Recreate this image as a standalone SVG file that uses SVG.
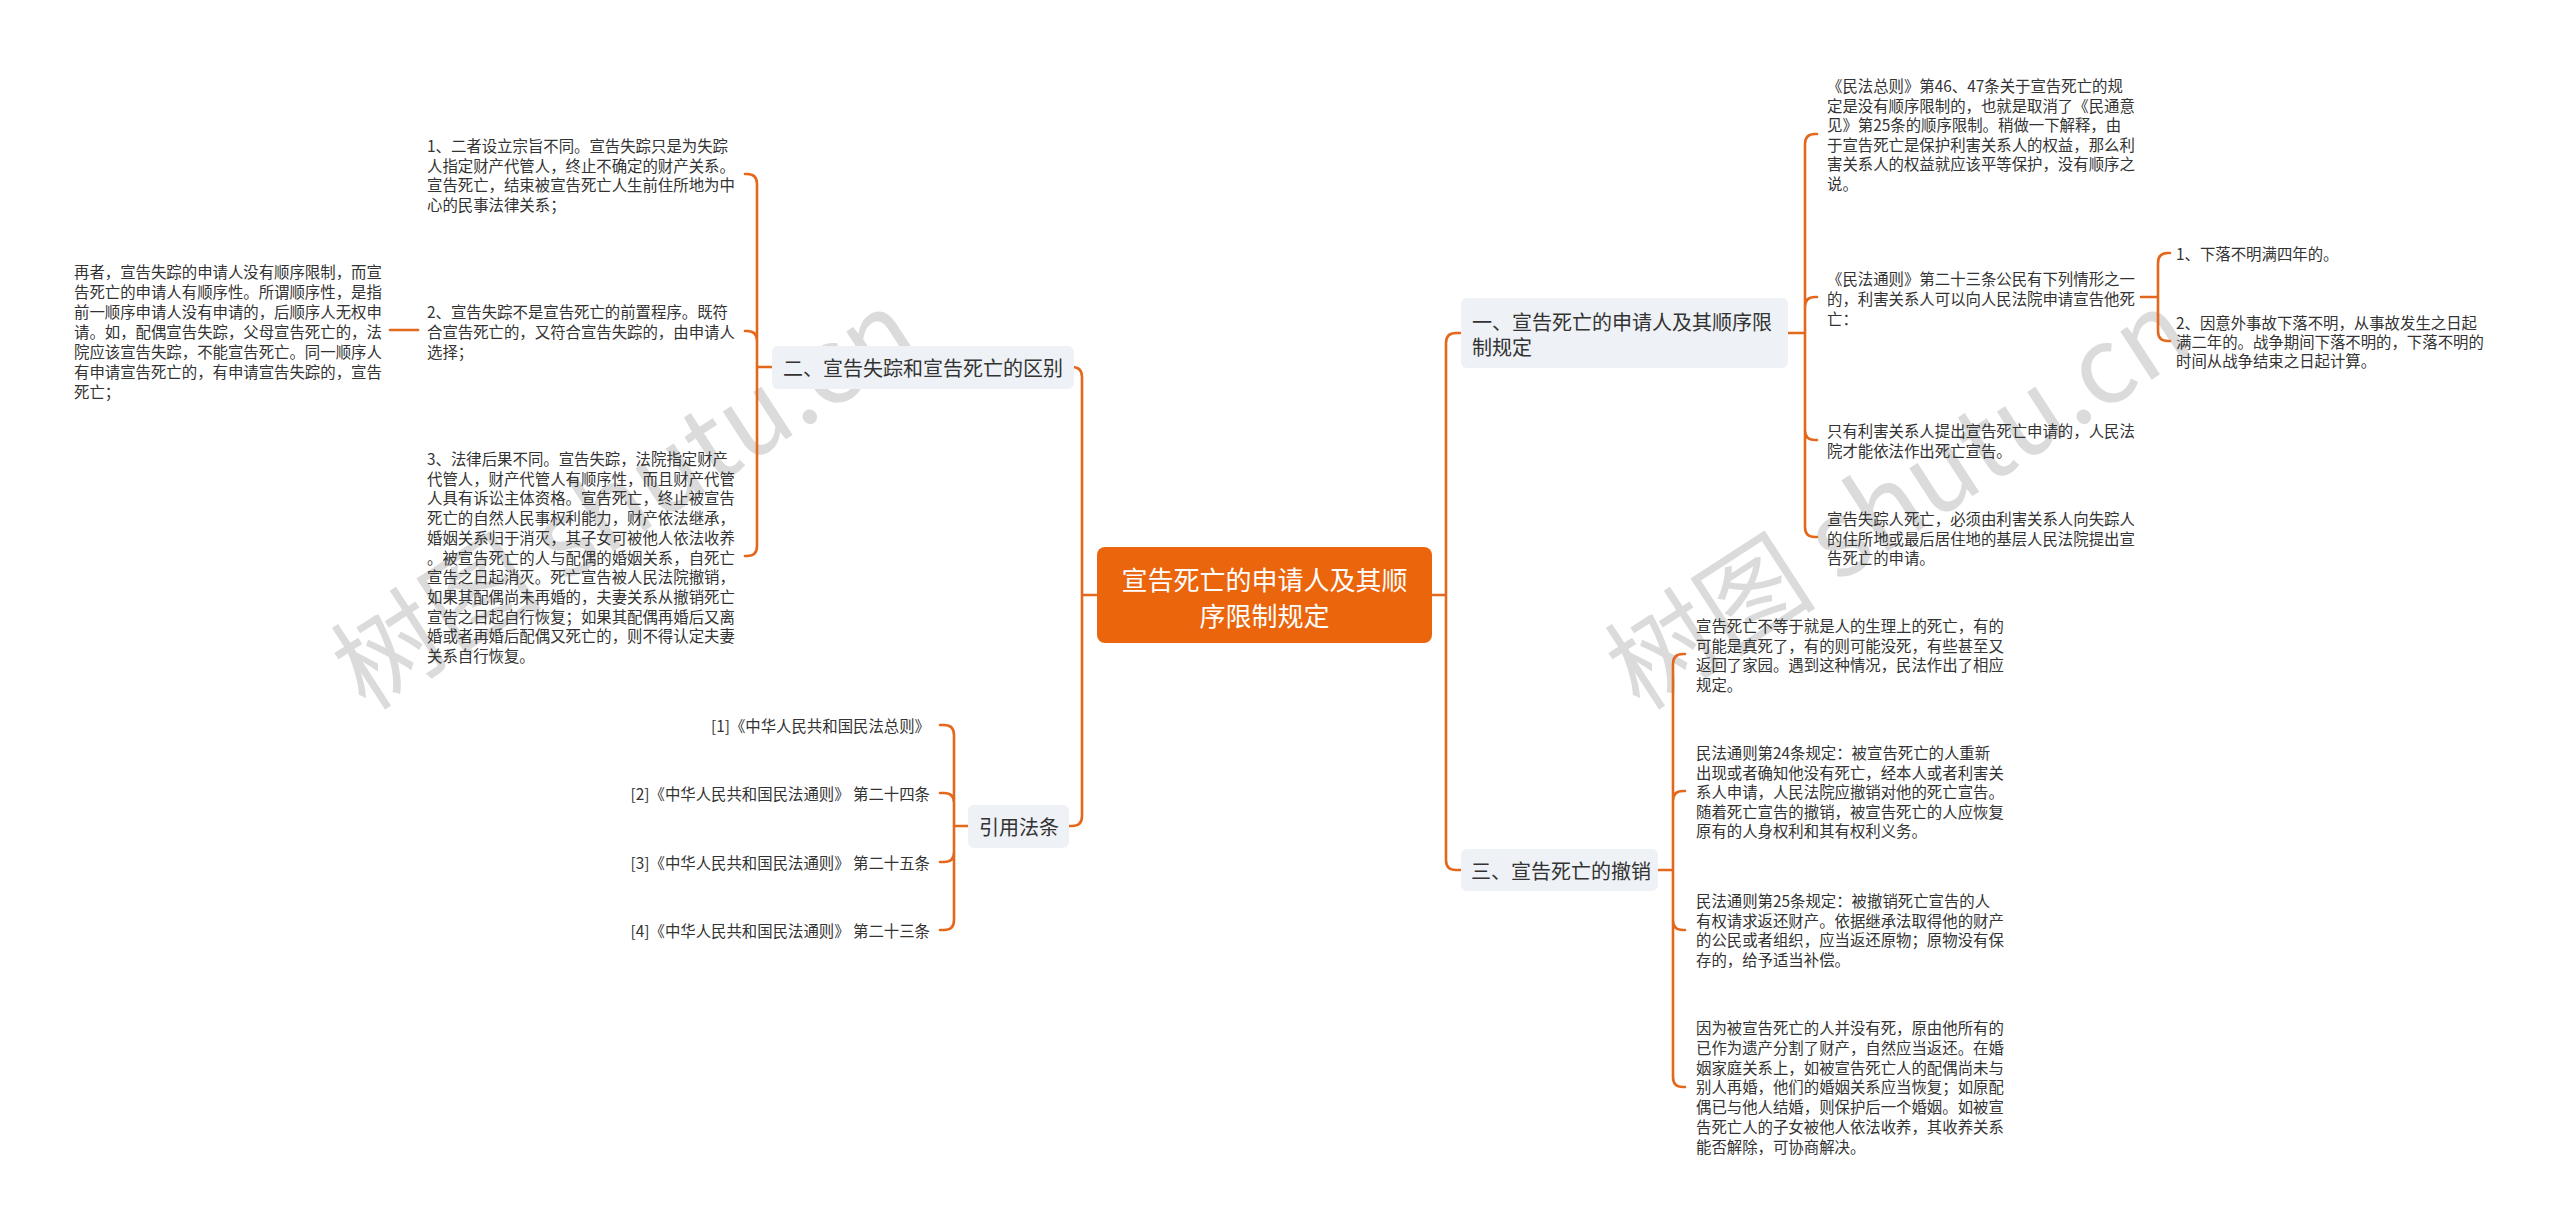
<svg xmlns="http://www.w3.org/2000/svg" width="2560" height="1229" viewBox="0 0 2560 1229">
<style>
text { font-family: "Noto Sans CJK SC", "Noto Sans", sans-serif; dominant-baseline: central; }
.t { font-size: 15.4px; fill: #333333; }
.b { font-size: 20px; fill: #333333; }
.c { font-size: 26px; fill: #ffffff; }
.br { fill: #EEF1F5; }
.wm { font-size: 106px; fill: #CFCFCF; opacity: 0.75; dominant-baseline: alphabetic; }
.ln { fill: none; stroke: #E4681C; stroke-width: 2.6; stroke-linecap: round; }
</style>
<rect width="2560" height="1229" fill="#ffffff"/>
<g id="watermark">
<text class="wm" transform="translate(366,712) rotate(-33)">树图 shutu.cn</text>
<text class="wm" transform="translate(1640,712) rotate(-33)">树图 shutu.cn</text>
</g>
<g id="connectors">
<path class="ln" d="M1097,595 L1082,595 M1082,595 L1082,377 Q1082,367 1072,367 L1074,367 M1082,595 L1082,816 Q1082,826 1072,826 L1069,826"/>
<path class="ln" d="M1432,595 L1446,595 M1446,595 L1446,343 Q1446,333 1456,333 L1461,333 M1446,595 L1446,860 Q1446,870 1456,870 L1461,870"/>
<path class="ln" d="M772,367 L757,367 M757,367 L757,184 Q757,174 747,174 L745,174 M757,367 L757,341 Q757,331 747,331 L745,331 M757,367 L757,546 Q757,556 747,556 L745,556"/>
<path class="ln" d="M418,330 L390,330"/>
<path class="ln" d="M968,826 L954,826 M954,826 L954,735 Q954,725 944,725 L940,725 M954,826 L954,803 Q954,793 944,793 L940,793 M954,826 L954,852 Q954,862 944,862 L940,862 M954,826 L954,920 Q954,930 944,930 L940,930"/>
<path class="ln" d="M1788,333 L1805,333 M1805,333 L1805,144 Q1805,134 1815,134 L1817,134 M1805,333 L1805,307 Q1805,297 1815,297 L1817,297 M1805,333 L1805,430 Q1805,440 1815,440 L1817,440 M1805,333 L1805,527 Q1805,537 1815,537 L1817,537"/>
<path class="ln" d="M2141,297 L2158,297 M2158,297 L2158,263 Q2158,253 2168,253 L2170,253 M2158,297 L2158,331 Q2158,341 2168,341 L2170,341"/>
<path class="ln" d="M1658,870 L1673,870 M1673,870 L1673,664 Q1673,654 1683,654 L1685,654 M1673,870 L1673,801 Q1673,791 1683,791 L1685,791 M1673,870 L1673,920 Q1673,930 1683,930 L1685,930 M1673,870 L1673,1077 Q1673,1087 1683,1087 L1685,1087"/>
</g>
<g id="center">
<rect x="1097" y="547" width="335" height="96" rx="8" fill="#EA650C"/>
<text class="c" text-anchor="middle"><tspan x="1264.5" y="578">宣告死亡的申请人及其顺</tspan><tspan x="1264.5" y="614">序限制规定</tspan></text>
</g>
<g id="b2">
<rect class="br" x="772" y="346" width="302" height="43" rx="6"/>
<text class="b" x="783" y="367">二、宣告失踪和宣告死亡的区别</text>
</g>
<g id="b2c1">
<text class="t"><tspan x="427" y="145">1、二者设立宗旨不同。宣告失踪只是为失踪</tspan><tspan x="427" y="164.5">人指定财产代管人，终止不确定的财产关系。</tspan><tspan x="427" y="184">宣告死亡，结束被宣告死亡人生前住所地为中</tspan><tspan x="427" y="203.5">心的民事法律关系；</tspan></text>
</g>
<g id="b2c2">
<text class="t"><tspan x="427" y="311">2、宣告失踪不是宣告死亡的前置程序。既符</tspan><tspan x="427" y="331">合宣告死亡的，又符合宣告失踪的，由申请人</tspan><tspan x="427" y="351">选择；</tspan></text>
</g>
<g id="b2c2a">
<text class="t"><tspan x="74" y="271">再者，宣告失踪的申请人没有顺序限制，而宣</tspan><tspan x="74" y="291">告死亡的申请人有顺序性。所谓顺序性，是指</tspan><tspan x="74" y="311">前一顺序申请人没有申请的，后顺序人无权申</tspan><tspan x="74" y="331">请。如，配偶宣告失踪，父母宣告死亡的，法</tspan><tspan x="74" y="351">院应该宣告失踪，不能宣告死亡。同一顺序人</tspan><tspan x="74" y="371">有申请宣告死亡的，有申请宣告失踪的，宣告</tspan><tspan x="74" y="391">死亡；</tspan></text>
</g>
<g id="b2c3">
<text class="t"><tspan x="427" y="458">3、法律后果不同。宣告失踪，法院指定财产</tspan><tspan x="427" y="477.7">代管人，财产代管人有顺序性，而且财产代管</tspan><tspan x="427" y="497.4">人具有诉讼主体资格。宣告死亡，终止被宣告</tspan><tspan x="427" y="517.1">死亡的自然人民事权利能力，财产依法继承，</tspan><tspan x="427" y="536.8">婚姻关系归于消灭，其子女可被他人依法收养</tspan><tspan x="427" y="556.5">。被宣告死亡的人与配偶的婚姻关系，自死亡</tspan><tspan x="427" y="576.2">宣告之日起消灭。死亡宣告被人民法院撤销，</tspan><tspan x="427" y="595.9">如果其配偶尚未再婚的，夫妻关系从撤销死亡</tspan><tspan x="427" y="615.6">宣告之日起自行恢复；如果其配偶再婚后又离</tspan><tspan x="427" y="635.3">婚或者再婚后配偶又死亡的，则不得认定夫妻</tspan><tspan x="427" y="655">关系自行恢复。</tspan></text>
</g>
<g id="cite">
<rect class="br" x="968" y="805" width="101" height="43" rx="6"/>
<text class="b" x="979" y="826">引用法条</text>
</g>
<g id="cite1"><text class="t" x="930" y="725" text-anchor="end">[1]《中华人民共和国民法总则》</text></g>
<g id="cite2"><text class="t" x="930" y="793" text-anchor="end">[2]《中华人民共和国民法通则》 第二十四条</text></g>
<g id="cite3"><text class="t" x="930" y="862" text-anchor="end">[3]《中华人民共和国民法通则》 第二十五条</text></g>
<g id="cite4"><text class="t" x="930" y="930" text-anchor="end">[4]《中华人民共和国民法通则》 第二十三条</text></g>
<g id="b1">
<rect class="br" x="1461" y="298" width="327" height="70" rx="6"/>
<text class="b"><tspan x="1472" y="321">一、宣告死亡的申请人及其顺序限</tspan><tspan x="1472" y="346">制规定</tspan></text>
</g>
<g id="b1a">
<text class="t"><tspan x="1827" y="85">《民法总则》第46、47条关于宣告死亡的规</tspan><tspan x="1827" y="104.5">定是没有顺序限制的，也就是取消了《民通意</tspan><tspan x="1827" y="124">见》第25条的顺序限制。稍做一下解释，由</tspan><tspan x="1827" y="143.5">于宣告死亡是保护利害关系人的权益，那么利</tspan><tspan x="1827" y="163">害关系人的权益就应该平等保护，没有顺序之</tspan><tspan x="1827" y="182.5">说。</tspan></text>
</g>
<g id="b1b">
<text class="t"><tspan x="1827" y="278">《民法通则》第二十三条公民有下列情形之一</tspan><tspan x="1827" y="298">的，利害关系人可以向人民法院申请宣告他死</tspan><tspan x="1827" y="318">亡：</tspan></text>
</g>
<g id="b1b1"><text class="t" x="2176" y="253">1、下落不明满四年的。</text></g>
<g id="b1b2">
<text class="t"><tspan x="2176" y="322">2、因意外事故下落不明，从事故发生之日起</tspan><tspan x="2176" y="341">满二年的。战争期间下落不明的，下落不明的</tspan><tspan x="2176" y="360">时间从战争结束之日起计算。</tspan></text>
</g>
<g id="b1c">
<text class="t"><tspan x="1827" y="430">只有利害关系人提出宣告死亡申请的，人民法</tspan><tspan x="1827" y="450">院才能依法作出死亡宣告。</tspan></text>
</g>
<g id="b1d">
<text class="t"><tspan x="1827" y="518">宣告失踪人死亡，必须由利害关系人向失踪人</tspan><tspan x="1827" y="537.5">的住所地或最后居住地的基层人民法院提出宣</tspan><tspan x="1827" y="557">告死亡的申请。</tspan></text>
</g>
<g id="b3">
<rect class="br" x="1461" y="849" width="197" height="42" rx="6"/>
<text class="b" x="1471" y="870">三、宣告死亡的撤销</text>
</g>
<g id="b3a">
<text class="t"><tspan x="1696" y="625">宣告死亡不等于就是人的生理上的死亡，有的</tspan><tspan x="1696" y="644.5">可能是真死了，有的则可能没死，有些甚至又</tspan><tspan x="1696" y="664">返回了家园。遇到这种情况，民法作出了相应</tspan><tspan x="1696" y="683.5">规定。</tspan></text>
</g>
<g id="b3b">
<text class="t"><tspan x="1696" y="752">民法通则第24条规定：被宣告死亡的人重新</tspan><tspan x="1696" y="771.5">出现或者确知他没有死亡，经本人或者利害关</tspan><tspan x="1696" y="791">系人申请，人民法院应撤销对他的死亡宣告。</tspan><tspan x="1696" y="810.5">随着死亡宣告的撤销，被宣告死亡的人应恢复</tspan><tspan x="1696" y="830">原有的人身权利和其有权利义务。</tspan></text>
</g>
<g id="b3c">
<text class="t"><tspan x="1696" y="900">民法通则第25条规定：被撤销死亡宣告的人</tspan><tspan x="1696" y="919.7">有权请求返还财产。依据继承法取得他的财产</tspan><tspan x="1696" y="939.4">的公民或者组织，应当返还原物；原物没有保</tspan><tspan x="1696" y="959">存的，给予适当补偿。</tspan></text>
</g>
<g id="b3d">
<text class="t"><tspan x="1696" y="1027">因为被宣告死亡的人并没有死，原由他所有的</tspan><tspan x="1696" y="1046.8">已作为遗产分割了财产，自然应当返还。在婚</tspan><tspan x="1696" y="1066.6">姻家庭关系上，如被宣告死亡人的配偶尚未与</tspan><tspan x="1696" y="1086.4">别人再婚，他们的婚姻关系应当恢复；如原配</tspan><tspan x="1696" y="1106.2">偶已与他人结婚，则保护后一个婚姻。如被宣</tspan><tspan x="1696" y="1126">告死亡人的子女被他人依法收养，其收养关系</tspan><tspan x="1696" y="1146">能否解除，可协商解决。</tspan></text>
</g>
</svg>
